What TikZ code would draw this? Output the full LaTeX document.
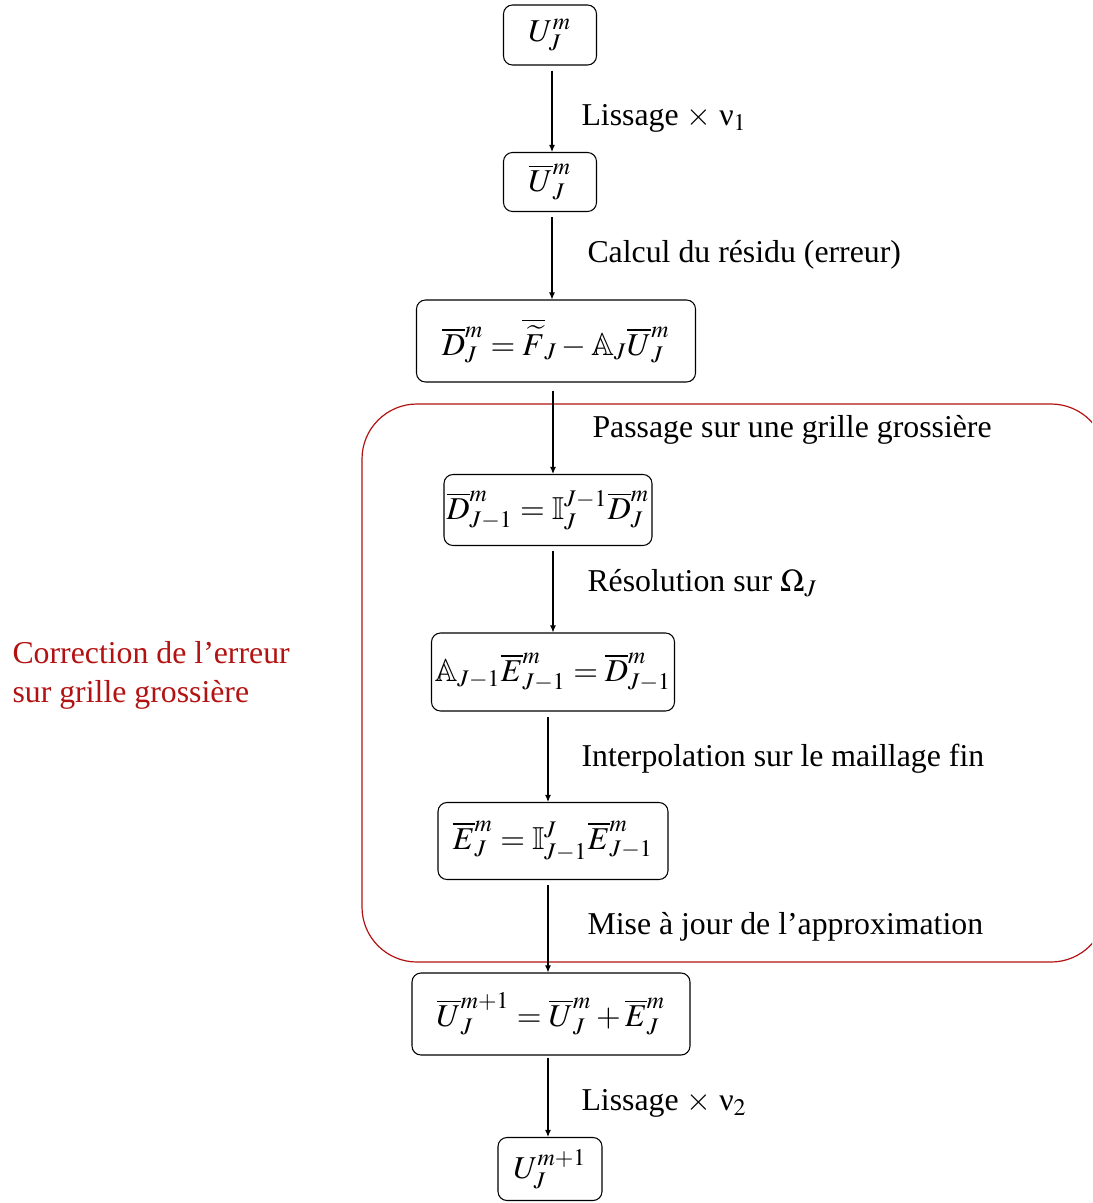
\documentclass[tikz,border=0pt]{standalone}
\usepackage{mathptmx}
\usepackage{amssymb}
\usepackage[no-math]{fontspec}
\setmainfont{Liberation Serif}
\usetikzlibrary{arrows.meta,calc}
\newlength\pxu
\setlength\pxu{0.3774pt}
\definecolor{rouge}{RGB}{178,18,18}
\tikzset{
  box/.style={draw, rounded corners=9\pxu, inner sep=0pt, line width=0.4pt},
  lab/.style={anchor=west, inner sep=0pt},
  arr/.style={-{Latex[length=2.7pt,width=2.3pt]}, line width=0.4pt, shorten <=5\pxu},
}
\begin{document}
\begin{tikzpicture}[x=\pxu, y=-\pxu, font=\fontsize{12}{14.4}\selectfont]
\useasboundingbox (0,0) rectangle (1092,1203);
\begin{scope}
\clip (0,0) rectangle (1092,1203);
\draw[rouge, line width=0.45pt, rounded corners=55\pxu] (362,404) rectangle (1106,962);
\end{scope}
% nodes
\node[box, minimum width=93\pxu, minimum height=60\pxu] (n1) at (550,35) {$U_J^m$};
\node[box, minimum width=93\pxu, minimum height=59\pxu] (n2) at (550,182) {$\overline{U}_J^m$};
\node[box, minimum width=279\pxu, minimum height=82\pxu] (n3) at (556,341) {$\overline{D}_J^m=\overline{\widetilde{F}}_J-\mathbb{A}_J\overline{U}_J^m$};
\node[box, minimum width=208\pxu, minimum height=71\pxu] (n4) at (548,510) {$\overline{D}_{J-1}^m=\mathbb{I}_J^{J-1}\overline{D}_J^m$};
\node[box, minimum width=243\pxu, minimum height=78\pxu] (n5) at (553,672) {$\mathbb{A}_{J-1}\overline{E}_{J-1}^m=\overline{D}_{J-1}^m$};
\node[box, minimum width=230\pxu, minimum height=77\pxu] (n6) at (553,841) {$\overline{E}_J^m=\mathbb{I}_{J-1}^{J}\overline{E}_{J-1}^m$};
\node[box, minimum width=278\pxu, minimum height=82\pxu] (n7) at (551,1014) {$\overline{U}_J^{m+1}=\overline{U}_J^m+\overline{E}_J^m$};
\node[box, minimum width=104\pxu, minimum height=63\pxu] (n8) at (550,1169) {$U_J^{m+1}$};
% arrows
\draw[arr] ($(n1.south)+(2,0)$) -- ($(n1.south |- n2.north)+(2,0)$);
\draw[arr] ($(n2.south)+(2,0)$) -- ($(n2.south |- n3.north)+(2,0)$);
\draw[arr, shorten <=8\pxu] ($(n3.south)+(-3,0)$) -- ($(n3.south |- n4.north)+(-3,0)$);
\draw[arr] ($(n4.south)+(5,0)$) -- ($(n4.south |- n5.north)+(5,0)$);
\draw[arr] ($(n5.south)+(-5,0)$) -- ($(n5.south |- n6.north)+(-5,0)$);
\draw[arr] ($(n6.south)+(-5,0)$) -- ($(n6.south |- n7.north)+(-5,0)$);
\draw[arr, shorten <=2\pxu] ($(n7.south)+(-3,0)$) -- ($(n7.south |- n8.north)+(-3,0)$);
% labels
\node[lab] (l1) at (581,118) {Lissage $\times$ ν$_1$};
\node[lab] (l2) at (587,255) {Calcul du résidu (erreur)};
\node[lab] (l3) at (592,430) {Passage sur une grille grossière};
\node[lab] (l4) at (587,583) {Résolution sur $\Omega_J$};
\node[lab] (l5) at (581,759) {Interpolation sur le maillage fin};
\node[lab] (l6) at (587,927) {Mise à jour de l’approximation};
\node[lab] (l7) at (581,1103) {Lissage $\times$ ν$_2$};
\node[lab, text=rouge, align=left, font=\fontsize{12}{14.7}\selectfont] (corr) at (12,675) {Correction de l’erreur\\sur grille grossière};
\end{tikzpicture}
\end{document}
